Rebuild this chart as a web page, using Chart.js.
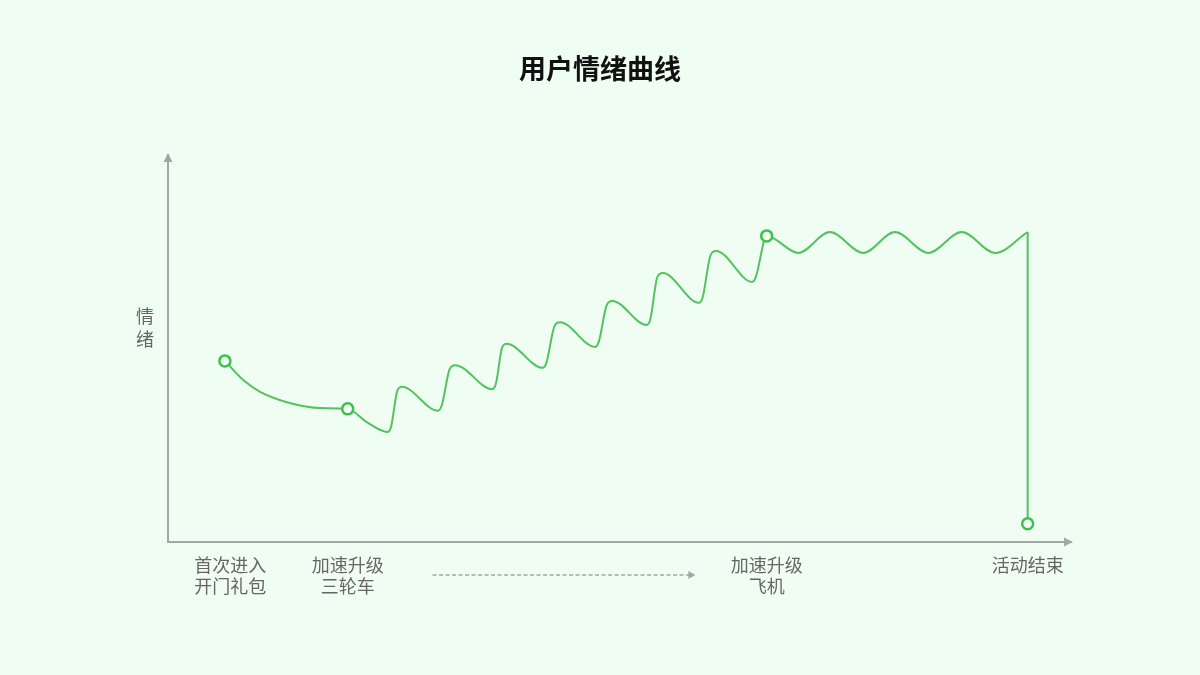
<!DOCTYPE html>
<html lang="zh">
<head>
    <meta charset="UTF-8">
    <title>用户情绪曲线</title>
    <script src="https://cdn.jsdelivr.net/npm/chart.js"></script>
    <style>
        html, body { margin: 0; padding: 0; background: #effdf3; }
        .wrap { width: 1200px; height: 675px; }
    </style>
</head>
<body>
    <div class="wrap">
        <canvas id="grafico"></canvas>
    </div>

    <script>
        // Datos (x = progreso de la actividad, y = emoción, 0-100)
        const curvaX = [6.3, 8.3, 10.2, 13.8, 16.8, 19.9, 22.0,
                        24.3, 24.7, 25.4, 25.9,
                        29.9, 30.3, 31.2, 31.8,
                        35.9, 36.3, 37.0, 37.5,
                        41.5, 41.9, 42.8, 43.4,
                        47.3, 47.7, 48.6, 49.2,
                        53.0, 53.4, 54.2, 54.8,
                        58.8, 59.2, 60.1, 60.7,
                        64.7, 65.1, 66.3,
                        69.8, 73.3, 77.0, 80.5, 84.2, 87.9, 91.6, 95.2];
        const curvaY = [46.8, 41.9, 38.8, 35.7, 34.6, 34.4, 31.0,
                        28.4, 29.7, 39.1, 40.1,
                        33.9, 35.2, 44.7, 45.7,
                        39.5, 40.8, 50.2, 51.2,
                        45.0, 46.3, 55.8, 56.8,
                        50.4, 51.7, 61.3, 62.3,
                        56.1, 57.4, 68.5, 69.5,
                        61.8, 63.1, 74.2, 75.2,
                        67.2, 68.5, 79.1,
                        74.7, 80.1, 74.7, 80.1, 74.7, 80.1, 74.7, 80.1];
        const hitosX = [6.3, 19.9, 66.3];       // puntos con marcador
        const finalX = [95.2, 95.2];
        const finalY = [80.1, 4.7];

        const etiquetasX = [6.9, 19.9, 66.3, 95.2];
        const etiquetas = [['首次进入', '开门礼包'], ['加速升级', '三轮车'], ['加速升级', '飞机'], ['活动结束']];
        const flechaDesde = 29.3, flechaHasta = 58.4;

        const verde = '#52c35f';
        const verdeMarca = '#3fbf4d';
        const gris = '#a2a8a5';
        const fondo = '#effdf3';
        const fuente = '"Noto Sans CJK SC", "Noto Sans", sans-serif';

        // Flechas de los ejes, texto del eje Y y la flecha punteada
        const decoracion = {
            id: 'decoracion',
            afterDraw(chart) {
                const { ctx, chartArea: a, scales } = chart;
                ctx.save();
                ctx.fillStyle = gris;
                // flecha eje Y
                ctx.beginPath();
                ctx.moveTo(a.left, a.top - 2);
                ctx.lineTo(a.left - 4.5, a.top + 7);
                ctx.lineTo(a.left + 4.5, a.top + 7);
                ctx.closePath();
                ctx.fill();
                // flecha eje X
                ctx.beginPath();
                ctx.moveTo(a.right + 2, a.bottom);
                ctx.lineTo(a.right - 7, a.bottom - 4.5);
                ctx.lineTo(a.right - 7, a.bottom + 4.5);
                ctx.closePath();
                ctx.fill();

                // 情绪 en vertical
                ctx.fillStyle = '#666';
                ctx.font = '18px ' + fuente;
                ctx.textAlign = 'center';
                ctx.textBaseline = 'middle';
                ctx.fillText('情', a.left - 23, 316);
                ctx.fillText('绪', a.left - 23, 339);

                // flecha punteada
                const x1 = scales.x.getPixelForValue(flechaDesde);
                const x2 = scales.x.getPixelForValue(flechaHasta);
                const y = a.bottom + 33;
                ctx.strokeStyle = gris;
                ctx.lineWidth = 1.5;
                ctx.setLineDash([4, 2.5]);
                ctx.beginPath();
                ctx.moveTo(x1, y);
                ctx.lineTo(x2 - 6, y);
                ctx.stroke();
                ctx.setLineDash([]);
                ctx.fillStyle = gris;
                ctx.beginPath();
                ctx.moveTo(x2, y);
                ctx.lineTo(x2 - 7, y - 4);
                ctx.lineTo(x2 - 7, y + 4);
                ctx.closePath();
                ctx.fill();
                ctx.restore();
            }
        };

        const ctx = document.getElementById('grafico').getContext('2d');

        new Chart(ctx, {
            type: 'line',
            data: {
                datasets: [{
                    data: curvaX.map((x, i) => ({ x, y: curvaY[i] })),
                    borderColor: verde,
                    borderWidth: 2,
                    cubicInterpolationMode: 'monotone',
                    pointRadius: c => hitosX.includes(c.raw.x) ? 5.5 : 0,
                    pointBorderWidth: 2.5,
                    pointBorderColor: verdeMarca,
                    pointBackgroundColor: fondo,
                    fill: false
                }, {
                    data: finalX.map((x, i) => ({ x, y: finalY[i] })),
                    borderColor: verde,
                    borderWidth: 2,
                    tension: 0,
                    pointRadius: c => c.dataIndex === 1 ? 5.5 : 0,
                    pointBorderWidth: 2.5,
                    pointBorderColor: verdeMarca,
                    pointBackgroundColor: fondo,
                    fill: false
                }]
            },
            options: {
                responsive: true,
                maintainAspectRatio: false,
                animation: false,
                layout: {
                    padding: { left: 129, right: 129, top: 0, bottom: 0 }
                },
                plugins: {
                    legend: { display: false },
                    tooltip: { enabled: false },
                    title: {
                        display: true,
                        text: '用户情绪曲线',
                        color: '#111',
                        font: { size: 27, weight: 'bold', family: fuente, lineHeight: 1.2 },
                        padding: { top: 52.8, bottom: 69.8 }
                    }
                },
                scales: {
                    x: {
                        type: 'linear',
                        min: 0,
                        max: 100,
                        grid: { display: false, drawTicks: false },
                        border: { display: true, color: gris, width: 2 },
                        afterFit(scale) { scale.height = 133; },
                        afterBuildTicks(scale) {
                            scale.ticks = etiquetasX.map(v => ({ value: v }));
                        },
                        ticks: {
                            autoSkip: false,
                            maxRotation: 0,
                            padding: 12,
                            color: '#666',
                            font: { size: 18, family: fuente, lineHeight: 1.2 },
                            callback: (v) => etiquetas[etiquetasX.indexOf(v)]
                        }
                    },
                    y: {
                        type: 'linear',
                        min: 0,
                        max: 100,
                        grid: { display: false, drawTicks: false },
                        border: { display: true, color: gris, width: 2 },
                        ticks: { display: false },
                        afterFit(scale) { scale.width = 39; }
                    }
                }
            },
            plugins: [decoracion]
        });
    </script>
</body>
</html>
